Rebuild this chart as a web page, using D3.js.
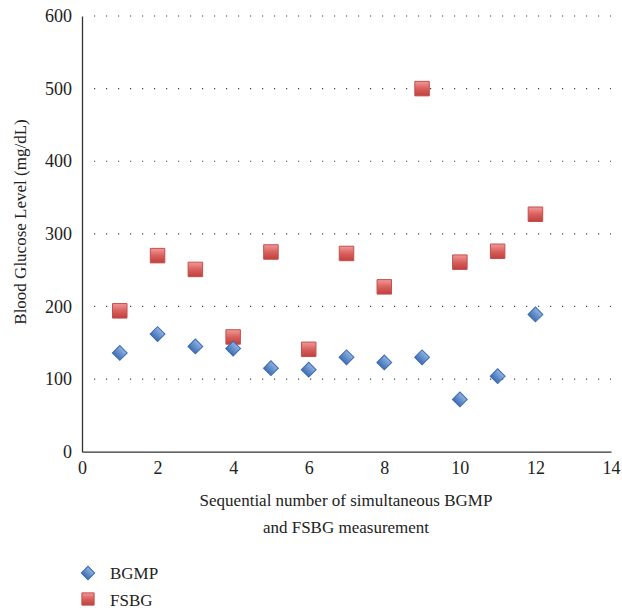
<!DOCTYPE html>
<html>
<head>
<meta charset="utf-8">
<script src="https://cdn.jsdelivr.net/npm/d3@7"></script>
<style>
  body { margin: 0; background: #fff; }
  text { font-family: 'Liberation Serif', 'DejaVu Serif', serif; fill: #222; }
</style>
</head>
<body>
<div id="chart"></div>
<script>
let measurement = [1, 2, 3, 4, 5, 6, 7, 8, 9, 10, 11, 12]
let bgmp = [136, 162, 145, 142, 115, 113, 130, 123, 130, 72, 104, 189]
let fsbg = [194, 270, 251, 158, 275, 141, 273, 227, 500, 261, 276, 327]
let xTicks = [0, 2, 4, 6, 8, 10, 12, 14]
let yTicks = [0, 100, 200, 300, 400, 500, 600]

let width = 622
let height = 614
let margin = { left: 82, right: 11, top: 16, bottom: 162 }

let svg = d3.select('#chart')
  .append('svg')
  .attr('width', width)
  .attr('height', height)

/* Gradients for markers */
let defs = svg.append('defs')
let blue = defs.append('linearGradient').attr('id', 'blueGrad')
  .attr('x1', 0).attr('y1', 0).attr('x2', 0).attr('y2', 1)
blue.append('stop').attr('offset', '0%').attr('stop-color', '#8fb2e2')
blue.append('stop').attr('offset', '100%').attr('stop-color', '#3e6fb5')
let red = defs.append('linearGradient').attr('id', 'redGrad')
  .attr('x1', 0).attr('y1', 0).attr('x2', 0).attr('y2', 1)
red.append('stop').attr('offset', '0%').attr('stop-color', '#f09a98')
red.append('stop').attr('offset', '50%').attr('stop-color', '#d9605d')
red.append('stop').attr('offset', '100%').attr('stop-color', '#c0403d')

/* Scales */
let xScale = d3.scaleLinear()
  .domain([0, 14])
  .range([margin.left, width - margin.right])

let yScale = d3.scaleLinear()
  .domain([0, 600])
  .range([height - margin.bottom - 0.3, margin.top])

/* Grid lines */
svg.append('g')
  .selectAll('line')
  .data(yTicks.filter(d => d > 0))
  .enter()
  .append('line')
  .attr('x1', xScale(0) + 12)
  .attr('x2', xScale(14))
  .attr('y1', d => yScale(d))
  .attr('y2', d => yScale(d))
  .attr('stroke', '#444')
  .attr('stroke-width', 1.2)
  .attr('stroke-dasharray', '1.2 10.8')

/* Axes */
let xAxis = d3.axisBottom(xScale).tickValues(xTicks).tickSize(0).tickPadding(10)
let yAxis = d3.axisLeft(yScale).tickValues(yTicks).tickSize(0).tickPadding(10)

let gx = svg.append('g')
  .attr('transform', `translate(0, ${yScale(0)})`)
  .call(xAxis)
gx.select('.domain').attr('stroke', '#333').attr('stroke-width', 1.3)
gx.selectAll('text').style('font-size', '18px').attr('fill', '#222')

let gy = svg.append('g')
  .attr('transform', `translate(${xScale(0)}, 0)`)
  .call(yAxis)
gy.select('.domain').attr('stroke', '#333').attr('stroke-width', 1.3)
gy.selectAll('text').style('font-size', '18px').attr('fill', '#222')

/* Axis titles */
svg.append('text')
  .attr('transform', 'translate(26, 222) rotate(-90)')
  .attr('text-anchor', 'middle')
  .style('font-size', '17px')
  .text('Blood Glucose Level (mg/dL)')

let xTitle = svg.append('text')
  .attr('text-anchor', 'middle')
  .style('font-size', '17px')
xTitle.append('tspan').attr('x', 346).attr('y', 506).text('Sequential number of simultaneous BGMP')
xTitle.append('tspan').attr('x', 346).attr('y', 533).text('and FSBG measurement')

/* Markers */
let diamond = d3.symbol().type(d3.symbolSquare).size(110)
let square = d3.symbol().type(d3.symbolSquare).size(210)

svg.append('g')
  .selectAll('path')
  .data(measurement)
  .enter()
  .append('path')
  .attr('d', square)
  .attr('transform', (d, i) => `translate(${xScale(d)}, ${yScale(fsbg[i])})`)
  .attr('fill', 'url(#redGrad)')
  .attr('stroke', '#c24f4c')
  .attr('stroke-width', 1)

svg.append('g')
  .selectAll('path')
  .data(measurement)
  .enter()
  .append('path')
  .attr('d', diamond)
  .attr('transform', (d, i) => `translate(${xScale(d)}, ${yScale(bgmp[i])}) rotate(45)`)
  .attr('fill', 'url(#blueGrad)')
  .attr('stroke', '#3a6ab0')
  .attr('stroke-width', 1)

/* Legend */
let legendSym = d3.symbol().type(d3.symbolSquare).size(150)
let legendDia = d3.symbol().type(d3.symbolSquare).size(90)
let legend = svg.append('g')
legend.append('path')
  .attr('d', legendDia)
  .attr('transform', 'translate(88, 573) rotate(45)')
  .attr('fill', 'url(#blueGrad)')
  .attr('stroke', '#3a6ab0')
legend.append('text')
  .attr('x', 110).attr('y', 579)
  .style('font-size', '17px')
  .text('BGMP')
legend.append('path')
  .attr('d', legendSym)
  .attr('transform', 'translate(88, 599)')
  .attr('fill', 'url(#redGrad)')
  .attr('stroke', '#c24f4c')
legend.append('text')
  .attr('x', 110).attr('y', 606)
  .style('font-size', '17px')
  .text('FSBG')
</script>
</body>
</html>
